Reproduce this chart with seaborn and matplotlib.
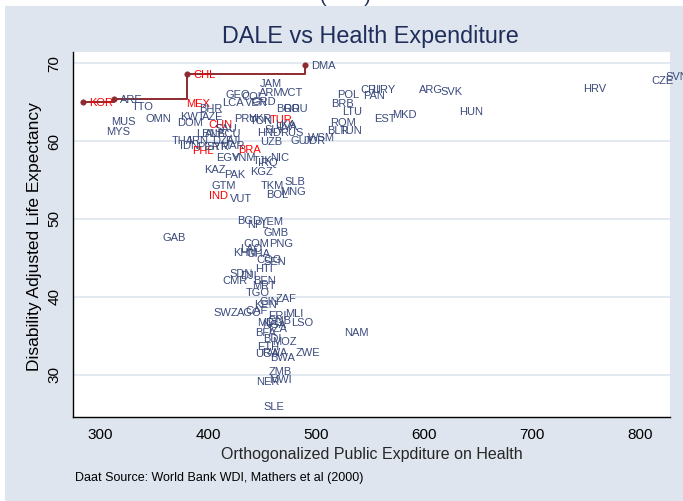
import matplotlib
matplotlib.use("Agg")
import matplotlib.pyplot as plt
import seaborn as sns
import pandas as pd
from matplotlib.patches import Rectangle

# country code, orthogonalized public health spending, DALE
codes = ["KOR", "ARE", "CHL", "DMA", "TTO", "MUS", "MYS", "OMN", "MEX", "BHR",
         "KWT", "AZE", "DOM", "LCA", "VEN", "GEO", "COL", "GRD", "CHN", "PRY",
         "UKR", "TON", "TUR", "LKA", "JAM", "ARM", "VCT", "BGR", "ROU", "THA",
         "IRN", "IDN", "PHL", "BRA", "EGY", "VNM", "HND", "SLV", "RUS", "UZB",
         "LVA", "GUY", "JOR", "WSM", "ROM", "BLR", "TUN", "POL", "BRB", "LTU",
         "CRI", "URY", "PAN", "ARG", "SVK", "EST", "MKD", "HUN", "HRV", "CZE",
         "SVN", "SAU", "LBN", "ALB", "ECU", "PER", "SYR", "DZA", "MAR", "FJI",
         "NIC", "TJK", "IRQ", "KAZ", "PAK", "KGZ", "GTM", "IND", "VUT", "TKM",
         "SLB", "BOL", "MNG", "BGD", "NPL", "YEM", "GAB", "GMB", "COM", "PNG",
         "KHM", "LAO", "GHA", "COG", "SEN", "HTI", "SDN", "DJI", "CMR", "BEN",
         "MRT", "TGO", "ZAF", "GIN", "KEN", "SWZ", "AGO", "CAF", "ERI", "MLI",
         "GNB", "LSO", "MDG", "NGA", "TZA", "BFA", "NAM", "BDI", "MOZ", "ETH",
         "UGA", "RWA", "BWA", "ZWE", "ZMB", "NER", "MWI", "SLE"]
spend = [284.5, 313.2, 380.8, 489.8, 323.8, 304.4, 299.7, 337.0, 374.1, 385.8,
         368.2, 388.6, 365.5, 407.1, 428.7, 410.2, 425.0, 435.2, 394.7, 419.0,
         431.5, 433.3, 451.4, 456.5, 442.6, 441.4, 461.8, 457.4, 463.9, 360.8,
         376.9, 368.5, 379.4, 422.2, 401.9, 416.7, 439.5, 447.2, 461.1, 442.6,
         459.0, 471.3, 483.3, 487.0, 507.4, 504.4, 516.7, 513.6, 508.1, 518.2,
         535.2, 546.0, 538.2, 590.1, 609.3, 548.1, 564.5, 627.1, 741.4, 805.3,
         818.5, 400.9, 383.3, 391.7, 402.8, 384.3, 392.6, 398.1, 405.6, 410.2,
         451.9, 436.1, 440.7, 390.7, 409.3, 433.3, 397.7, 395.4, 414.8, 443.5,
         465.7, 447.9, 461.1, 421.6, 430.3, 442.6, 352.5, 445.6, 427.1, 451.2,
         417.3, 424.1, 430.3, 438.9, 445.6, 438.2, 413.9, 424.1, 408.1, 435.8,
         434.9, 429.4, 457.4, 442.6, 437.0, 399.4, 421.0, 428.7, 450.0, 465.7,
         449.3, 471.3, 439.5, 444.4, 449.1, 438.0, 520.6, 445.1, 453.4, 440.1,
         438.0, 444.4, 451.9, 475.9, 450.3, 438.9, 451.2, 445.6]
dale = [65.0, 65.4, 68.6, 69.8, 64.5, 62.6, 61.3, 62.9, 64.9, 64.3,
        63.2, 63.2, 62.4, 65.0, 65.0, 66.0, 65.8, 65.2, 62.2, 63.0,
        63.0, 62.7, 62.8, 62.2, 67.4, 66.3, 66.3, 64.2, 64.2, 60.1,
        60.1, 59.5, 58.9, 59.0, 57.9, 57.9, 61.1, 61.5, 61.1, 60.0,
        61.9, 60.1, 60.1, 60.5, 62.4, 61.4, 61.4, 66.1, 64.9, 63.9,
        66.7, 66.7, 65.9, 66.7, 66.4, 63.0, 63.5, 63.9, 66.8, 67.9,
        68.4, 61.7, 61.0, 61.0, 61.0, 59.4, 59.4, 60.1, 59.5, 60.1,
        58.0, 57.6, 57.3, 56.4, 55.8, 56.1, 54.3, 53.1, 52.7, 54.3,
        54.9, 53.2, 53.6, 49.9, 49.3, 49.7, 47.7, 48.3, 46.9, 46.9,
        45.7, 46.3, 45.6, 44.9, 44.6, 43.7, 43.0, 42.8, 42.1, 42.2,
        41.5, 40.6, 39.8, 39.4, 39.0, 38.0, 38.0, 38.3, 37.6, 37.9,
        37.0, 36.8, 36.7, 36.5, 36.0, 35.4, 35.4, 34.7, 34.3, 33.6,
        32.7, 32.9, 32.2, 32.9, 30.5, 29.2, 29.4, 26.0]
highlight = ["KOR", "CHL", "MEX", "CHN", "TUR", "PHL", "BRA", "IND"]
frontier = ["KOR", "ARE", "CHL", "DMA"]

df = pd.DataFrame({"code": codes, "spend": spend, "dale": dale})
front = df[df["code"].isin(frontier)].sort_values("spend")

bg = "#dfe5ef"
navy = "#3a4a7c"
maroon = "#8e2a30"

sns.set_style("white")
plt.rcParams["font.family"] = ["Liberation Sans", "DejaVu Sans"]

fig = plt.figure(figsize=(6.83, 5.01), dpi=100)
fig.patch.set_facecolor("white")
fig.add_artist(Rectangle((5 / 683, 0), 1, 495 / 501, transform=fig.transFigure,
                         facecolor=bg, edgecolor="none", zorder=-10))
fig.text(345 / 683, 1 + 2 / 501, "(       )", ha="center", va="center",
         fontsize=14, color="#1e2d5a")

ax = fig.add_axes([72.7 / 683, 1 - 416.7 / 501, (670 - 72.7) / 683, (416.7 - 52) / 501])
ax.set_facecolor("white")

# efficiency frontier
sns.lineplot(data=front, x="spend", y="dale", drawstyle="steps-post", sort=False,
             estimator=None, color=maroon, linewidth=1.4, ax=ax, zorder=3)
sns.scatterplot(data=front, x="spend", y="dale", color=maroon, edgecolor=maroon,
                s=16, ax=ax, zorder=4)

for c, x, y in zip(df["code"], df["spend"], df["dale"]):
    ax.annotate(c, (x, y), xytext=(4.3, -2.85), textcoords="offset points",
                ha="left", va="baseline", fontsize=8,
                color="red" if c in highlight else navy, zorder=5,
                annotation_clip=False)

ax.set_xlim(274.7, 827.8)
ax.set_ylim(24.58, 71.45)
ax.set_xticks([300, 400, 500, 600, 700, 800])
ax.set_yticks([30, 40, 50, 60, 70])
ax.tick_params(axis="both", direction="out", length=5, width=1, color="black",
               labelsize=11, labelcolor="black", pad=3)
plt.setp(ax.get_yticklabels(), rotation=90, va="center")
ax.yaxis.grid(True, color="#e1e7f0", linewidth=1.3)
ax.xaxis.grid(False)
for s in ["top", "right"]:
    ax.spines[s].set_visible(False)
for s in ["left", "bottom"]:
    ax.spines[s].set_color("black")
    ax.spines[s].set_linewidth(1)

ax.set_xlabel("Orthogonalized Public Expditure on Health", fontsize=11.5, labelpad=4)
ax.set_ylabel("")
fig.text(35 / 683, 1 - 236.5 / 501, "Disability Adjusted Life Expectancy",
         rotation=90, ha="center", va="center", fontsize=12.5, color="black")

fig.text(370 / 683, 1 - 37 / 501, "DALE vs Health Expenditure", ha="center",
         va="center", fontsize=16.8, color="#1e2d5a")
fig.text(75 / 683, 1 - 478 / 501, "Daat Source: World Bank WDI, Mathers et al (2000)",
         ha="left", va="center", fontsize=9, color="black")

fig.savefig("out.png", dpi=100)
